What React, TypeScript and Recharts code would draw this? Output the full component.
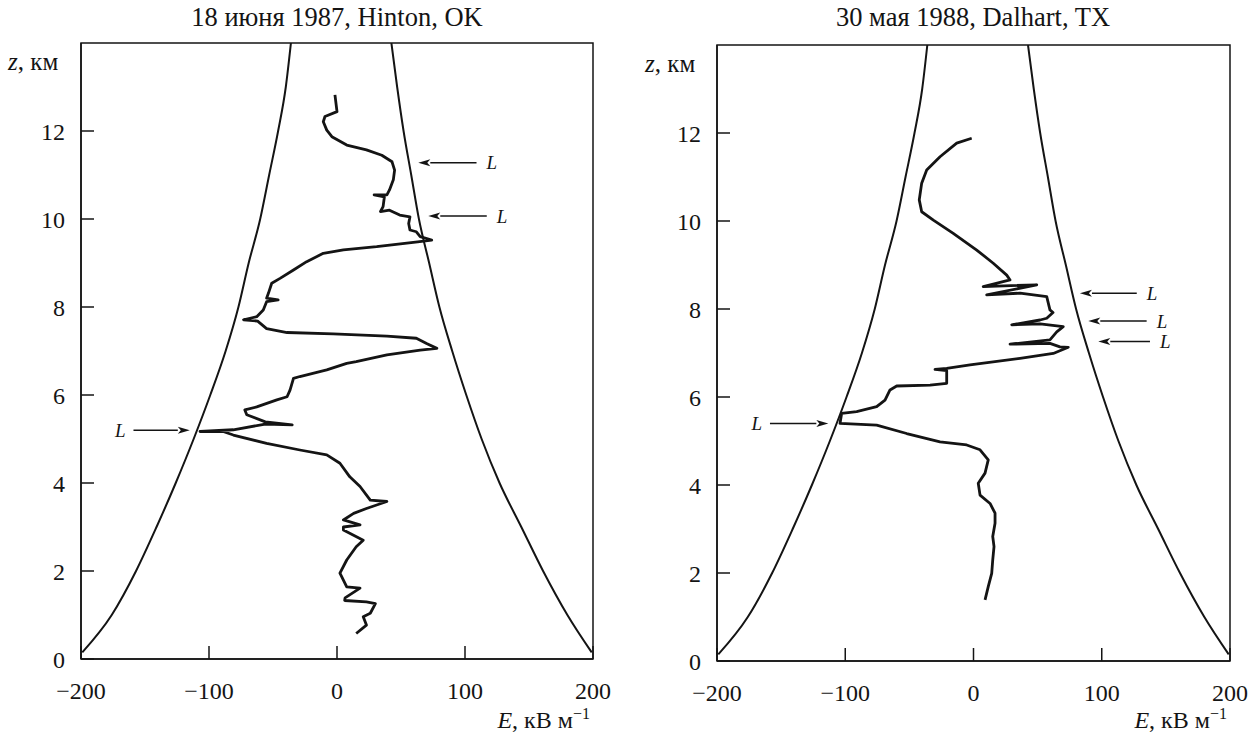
import React from 'react';
import { ComposedChart, Line, XAxis, YAxis, ReferenceArea, ReferenceLine } from 'recharts';

// threshold envelope curves (same on both panels), z in km, E in kV/m
const envZ = [0.15, 1, 2, 3, 4, 5, 6, 7, 8, 9, 10, 11, 12, 13, 14];
const envLeftE = [-199, -176, -157, -141, -126, -112, -99, -87, -77, -69, -60, -53, -46, -40, -36];
const envRightE = [199, 180, 161, 144, 127, 113, 101, 90, 80, 72, 64, 58, 52, 47, 42.5];

const xTicks = [-200, -100, 0, 100, 200];
const zTicks = [0, 2, 4, 6, 8, 10, 12];

// sounding 18 June 1987, Hinton OK: [E, z], top to bottom
const hintonProfile = [
  [-1.6, 12.82], [0, 12.44], [-9.4, 12.33], [-10.7, 12.21], [-8, 12.02], [-4, 11.87], [7.6, 11.68],
  [23, 11.57], [35, 11.45], [43, 11.3], [45, 11.11], [44, 10.89], [41, 10.66], [39, 10.55], [29, 10.55],
  [37, 10.5], [36, 10.28], [34, 10.17], [41, 10.2], [49, 10.09], [57, 10.05], [56, 9.9], [57, 9.75],
  [62, 9.71], [65, 9.6], [74, 9.52], [63, 9.48], [31, 9.37], [5, 9.3], [-10.7, 9.22], [-23.7, 9.03],
  [-34, 8.84], [-44.5, 8.65], [-51, 8.54], [-53.6, 8.31], [-55, 8.2], [-46, 8.16], [-55, 8.12],
  [-57.6, 7.93], [-62.7, 7.78], [-73, 7.71], [-62, 7.68], [-55, 7.51], [-39, 7.42], [-3, 7.39],
  [39, 7.34], [62, 7.29], [70, 7.17], [78, 7.06], [65, 7.02], [39, 6.91], [15, 6.76], [7.6, 6.72],
  [-8, 6.57], [-29, 6.42], [-34, 6.38], [-36.7, 6.11], [-39, 5.96], [-47, 5.89], [-62.7, 5.73],
  [-72, 5.66], [-70.5, 5.55], [-56, 5.39], [-35, 5.32], [-56, 5.34], [-81, 5.21], [-107, 5.17],
  [-89, 5.17], [-81, 5.09], [-55, 4.9], [-29, 4.75], [-8, 4.64], [2.3, 4.45], [10, 4.14], [18, 3.92],
  [26, 3.61], [39, 3.58], [23, 3.42], [13, 3.31], [5, 3.16], [18, 3.05], [5, 3.0], [5, 2.93],
  [20.5, 2.7], [15, 2.55], [7.6, 2.25], [2.3, 1.95], [7.6, 1.64], [18, 1.61], [6.3, 1.39], [6, 1.33],
  [23, 1.3], [30, 1.26], [26, 1.04], [20.5, 0.96], [23, 0.77], [15, 0.58],
];

// sounding 30 May 1988, Dalhart TX: [E, z], top to bottom
const dalhartProfile = [
  [-1.4, 11.88], [-13.1, 11.77], [-26.1, 11.46], [-36.5, 11.16], [-40.4, 10.86], [-42.3, 10.48],
  [-40.4, 10.21], [-31.3, 10.02], [-15.8, 9.72], [2.5, 9.34], [15.4, 9.04], [25.9, 8.77], [28.5, 8.66],
  [7.6, 8.51], [49.3, 8.55], [10.3, 8.32], [36.3, 8.36], [57.1, 8.28], [59.6, 7.98], [62, 7.92],
  [57.1, 7.79], [51.9, 7.75], [29.8, 7.64], [51.9, 7.66], [70, 7.6], [64.9, 7.48], [59.6, 7.3],
  [28.5, 7.2], [59.6, 7.22], [67.4, 7.14], [73.9, 7.13], [62.2, 6.99], [36.3, 6.88], [-2.7, 6.73],
  [-20.9, 6.65], [-30, 6.63], [-20.9, 6.6], [-20.9, 6.31], [-33.9, 6.27], [-59.9, 6.25], [-65.1, 6.16],
  [-69, 5.93], [-75.5, 5.78], [-91.1, 5.67], [-102.8, 5.63], [-104.1, 5.4], [-75.5, 5.36],
  [-52.1, 5.17], [-26.1, 4.98], [-5.3, 4.91], [5.1, 4.8], [11.5, 4.57], [9, 4.27], [3.7, 4.04],
  [5.1, 3.77], [12.9, 3.58], [16.8, 3.36], [16.8, 3.13], [15, 2.83], [16, 2.6], [15, 2.3],
  [14.2, 1.99], [11.5, 1.69], [9, 1.39],
];

// "L" arrows: [tail E, head E, z]
const hintonArrows = [
  [109, 63.5, 11.28],
  [117, 71.3, 10.07],
  [-159, -115, 5.2],
];
const dalhartArrows = [
  [127.3, 83, 8.36],
  [135, 89.5, 7.73],
  [137.6, 97.3, 7.26],
  [-158.7, -113.2, 5.4],
];

const FONT = '"Liberation Serif", "Times New Roman", serif';
const INK = '#141414';

const toPoints = (pairs: number[][]) => pairs.map(([E, z]) => ({ E, z }));
const envLeft = envZ.map((z, i) => ({ E: envLeftE[i], z }));
const envRight = envZ.map((z, i) => ({ E: envRightE[i], z }));

const fmtE = (v: number) => (v < 0 ? `\u2212${Math.abs(v)}` : `${v}`);

function ArrowShape(props: any) {
  const { x1, y1, x2, y2 } = props;
  const dir = x2 < x1 ? -1 : 1;
  const len = 12;
  const hw = 3.5;
  const bx = x2 - dir * len;
  const labelX = dir < 0 ? x1 + 10 : x1 - 8;
  return (
    <g>
      <line x1={x1} y1={y1} x2={bx} y2={y2} stroke={INK} strokeWidth={1.5} />
      <polygon points={`${x2},${y2} ${bx},${y2 - hw} ${bx + dir * 3},${y2} ${bx},${y2 + hw}`} fill={INK} />
      <text
        x={labelX}
        y={y1}
        dy="0.35em"
        textAnchor={dir < 0 ? 'start' : 'end'}
        fontFamily={FONT}
        fontStyle="italic"
        fontSize={19}
        fill={INK}
      >
        L
      </text>
    </g>
  );
}

interface PanelProps {
  profile: number[][];
  arrows: number[][];
  width: number;
  margin: { top: number; right: number; bottom: number; left: number };
}

function Panel({ profile, arrows, width, margin }: PanelProps) {
  const tickStyle = { fill: INK, fontSize: 24, fontFamily: FONT };
  return (
    <ComposedChart width={width} height={740} margin={margin}>
      <XAxis
        dataKey="E"
        type="number"
        domain={[-200, 200]}
        ticks={xTicks}
        tickFormatter={fmtE}
        allowDataOverflow
        height={40}
        tickSize={-13}
        tickMargin={36}
        tick={tickStyle}
        stroke={INK}
        strokeWidth={1.5}
      />
      <YAxis
        type="number"
        domain={[0, 14]}
        ticks={zTicks}
        allowDataOverflow
        width={30}
        tickSize={-13}
        tickMargin={29}
        tick={tickStyle}
        stroke={INK}
        strokeWidth={1.5}
      />
      <ReferenceArea x1={-200} x2={200} y1={0} y2={14} fill="none" stroke={INK} strokeWidth={1.5} />
      <Line data={envLeft} dataKey="z" type="monotone" stroke={INK} strokeWidth={2} dot={false} activeDot={false} isAnimationActive={false} />
      <Line data={envRight} dataKey="z" type="monotone" stroke={INK} strokeWidth={2} dot={false} activeDot={false} isAnimationActive={false} />
      <Line
        data={toPoints(profile)}
        dataKey="z"
        type="linear"
        stroke={INK}
        strokeWidth={2.8}
        strokeLinejoin="round"
        dot={false}
        activeDot={false}
        isAnimationActive={false}
      />
      {arrows.map(([tail, head, z], i) => (
        <ReferenceLine
          key={i}
          segment={[{ x: tail, y: z }, { x: head, y: z }]}
          ifOverflow="visible"
          shape={ArrowShape}
        />
      ))}
    </ComposedChart>
  );
}

const textBase: React.CSSProperties = {
  position: 'absolute',
  fontFamily: FONT,
  fontSize: 24,
  lineHeight: '24px',
  color: INK,
  whiteSpace: 'nowrap',
};

function UnitE() {
  return (
    <>
      <i>E</i>, кВ м<span style={{ fontSize: 16, position: 'relative', top: -9 }}>{'\u2212'}1</span>
    </>
  );
}

export default function App() {
  return (
    <div style={{ position: 'absolute', left: 0, top: 0, width: 1249, height: 740, background: '#fff', overflow: 'hidden' }}>
      <div style={{ ...textBase, fontSize: 26.5, lineHeight: '27px', left: 137, width: 400, top: 4, textAlign: 'center' }}>
        18 июня 1987, Hinton, OK
      </div>
      <div style={{ ...textBase, fontSize: 26.5, lineHeight: '27px', left: 773, width: 400, top: 4, textAlign: 'center' }}>
        30 мая 1988, Dalhart, TX
      </div>
      <div style={{ ...textBase, fontSize: 25, lineHeight: '25px', left: 8, top: 49 }}>
        <i>z</i>, км
      </div>
      <div style={{ ...textBase, fontSize: 25, lineHeight: '25px', left: 645, top: 51 }}>
        <i>z</i>, км
      </div>
      <div style={{ ...textBase, right: 1249 - 590, top: 708 }}>
        <UnitE />
      </div>
      <div style={{ ...textBase, right: 1249 - 1227, top: 708 }}>
        <UnitE />
      </div>
      <div style={{ position: 'absolute', left: 0, top: 0 }}>
        <Panel profile={hintonProfile} arrows={hintonArrows} width={620} margin={{ top: 43, right: 27, bottom: 41, left: 51 }} />
      </div>
      <div style={{ position: 'absolute', left: 625, top: 0 }}>
        <Panel profile={dalhartProfile} arrows={dalhartArrows} width={624} margin={{ top: 45, right: 19, bottom: 39, left: 62 }} />
      </div>
    </div>
  );
}
